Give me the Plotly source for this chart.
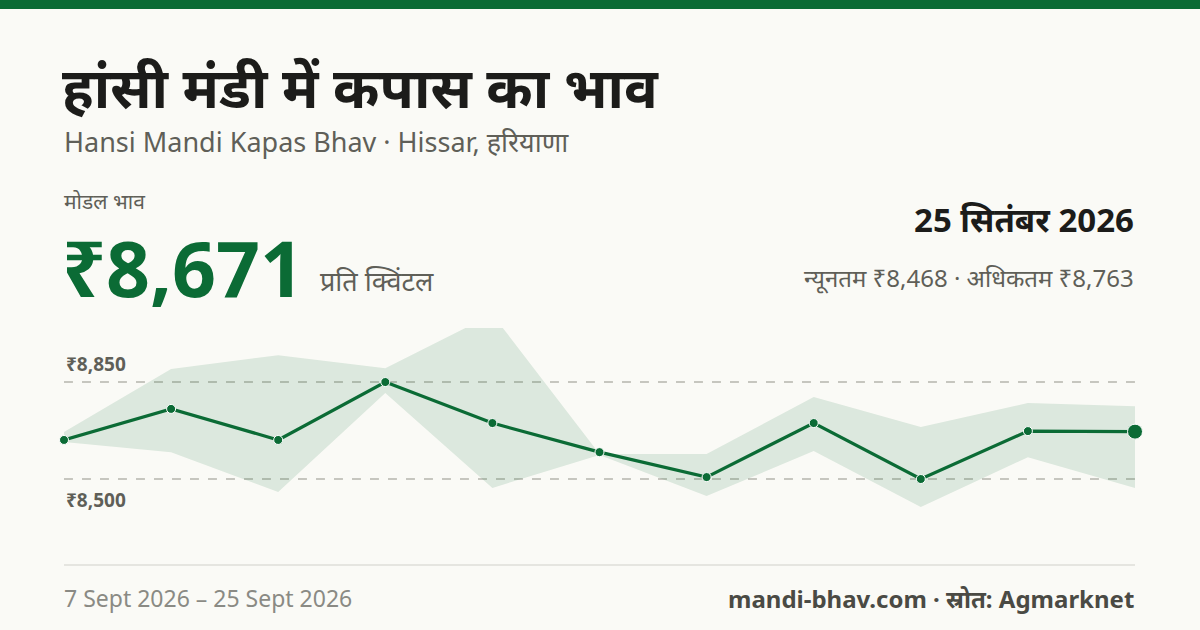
import plotly.graph_objects as go

dates = ['7 Sept', '9 Sept', '11 Sept', '13 Sept', '15 Sept', '17 Sept',
         '19 Sept', '21 Sept', '23 Sept', '24 Sept', '25 Sept']
modal = [8641, 8753, 8641, 8850, 8702, 8597, 8507, 8702, 8500, 8673, 8671]
max_price = [8670, 8897, 8947, 8900, 9094, 8590, 8590, 8796, 8688, 8774, 8763]
min_price = [8634, 8597, 8453, 8810, 8468, 8587, 8439, 8601, 8399, 8579, 8468]
grid_values = [8850, 8500]
grid_labels = ['₹8,850', '₹8,500']

GREEN = '#0b6b35'
GRAY = '#5f5f58'
FONT = 'Noto Sans, DejaVu Sans, sans-serif'
xs = list(range(len(dates)))

fig = go.Figure()
fig.add_trace(go.Scatter(x=xs, y=max_price, mode='lines', line=dict(width=0),
                         hoverinfo='skip', showlegend=False))
fig.add_trace(go.Scatter(x=xs, y=min_price, mode='lines', line=dict(width=0),
                         fill='tonexty', fillcolor='rgba(11,107,53,0.12)',
                         hoverinfo='skip', showlegend=False))
fig.add_trace(go.Scatter(x=xs, y=modal, mode='lines+markers', cliponaxis=False,
                         line=dict(color=GREEN, width=3.2),
                         marker=dict(color=GREEN, opacity=1, size=[9] * (len(xs) - 1) + [15]),
                         text=dates, showlegend=False))

for v, lab in zip(grid_values, grid_labels):
    fig.add_shape(type='line', xref='paper', yref='y', x0=0.0533, x1=0.9458, y0=v, y1=v,
                  line=dict(color='#b5b5ad', width=1.5, dash='dash'), layer='below')
    fig.add_annotation(xref='paper', yref='y', x=0.0533, y=v, text=f'<b>{lab}</b>',
                       showarrow=False, xanchor='left',
                       yanchor='bottom' if v == grid_values[0] else 'top',
                       yshift=3 if v == grid_values[0] else -6,
                       font=dict(family=FONT, size=19, color=GRAY))

# top bar and footer separator
fig.add_shape(type='rect', xref='paper', yref='paper', x0=0, x1=1, y0=1 - 9 / 630, y1=1,
              fillcolor=GREEN, line=dict(width=0))
fig.add_shape(type='line', xref='paper', yref='paper', x0=64 / 1200, x1=1135 / 1200,
              y0=1 - 565 / 630, y1=1 - 565 / 630, line=dict(color='#deded8', width=1.5))


def text(x, y, s, size, color, anchor='left', bold=False):
    fig.add_annotation(xref='paper', yref='paper', x=x / 1200, y=1 - y / 630,
                       text=f'<b>{s}</b>' if bold else s, showarrow=False,
                       xanchor=anchor, yanchor='middle',
                       font=dict(family=FONT, size=size, color=color))


text(60, 86, 'हांसी मंडी में कपास का भाव', 56, '#1c1c1a', bold=True)
text(62, 142, 'Hansi Mandi Kapas Bhav · Hissar, हरियाणा', 27, GRAY)
text(62, 201, 'मोडल भाव', 21, GRAY)
text(60, 267, '₹8,671', 77, GREEN, bold=True)
text(318, 280, 'प्रति क्विंटल', 27, GRAY)
text(1136, 219, '25 सितंबर 2026', 33, '#1c1c1a', anchor='right', bold=True)
text(1136, 277, 'न्यूनतम ₹8,468 · अधिकतम ₹8,763', 24, GRAY, anchor='right')
text(62, 598, '7 Sept 2026 – 25 Sept 2026', 23, '#8a8a84')
text(1136, 598, 'mandi-bhav.com · स्रोत: Agmarknet', 24, '#4a4a44', anchor='right', bold=True)

fig.update_layout(
    width=1200, height=630, margin=dict(l=0, r=0, t=0, b=0),
    paper_bgcolor='#fafaf6', plot_bgcolor='#fafaf6',
    xaxis=dict(domain=[64 / 1200, 1135 / 1200], range=[0, len(xs) - 1],
               visible=False, fixedrange=True),
    yaxis=dict(domain=[1 - 540 / 630, 1 - 328 / 630], range=[8280, 9045],
               visible=False, fixedrange=True),
)

fig.write_html('out.html', config={'displayModeBar': False},
               post_script="document.body.style.margin='0';")
